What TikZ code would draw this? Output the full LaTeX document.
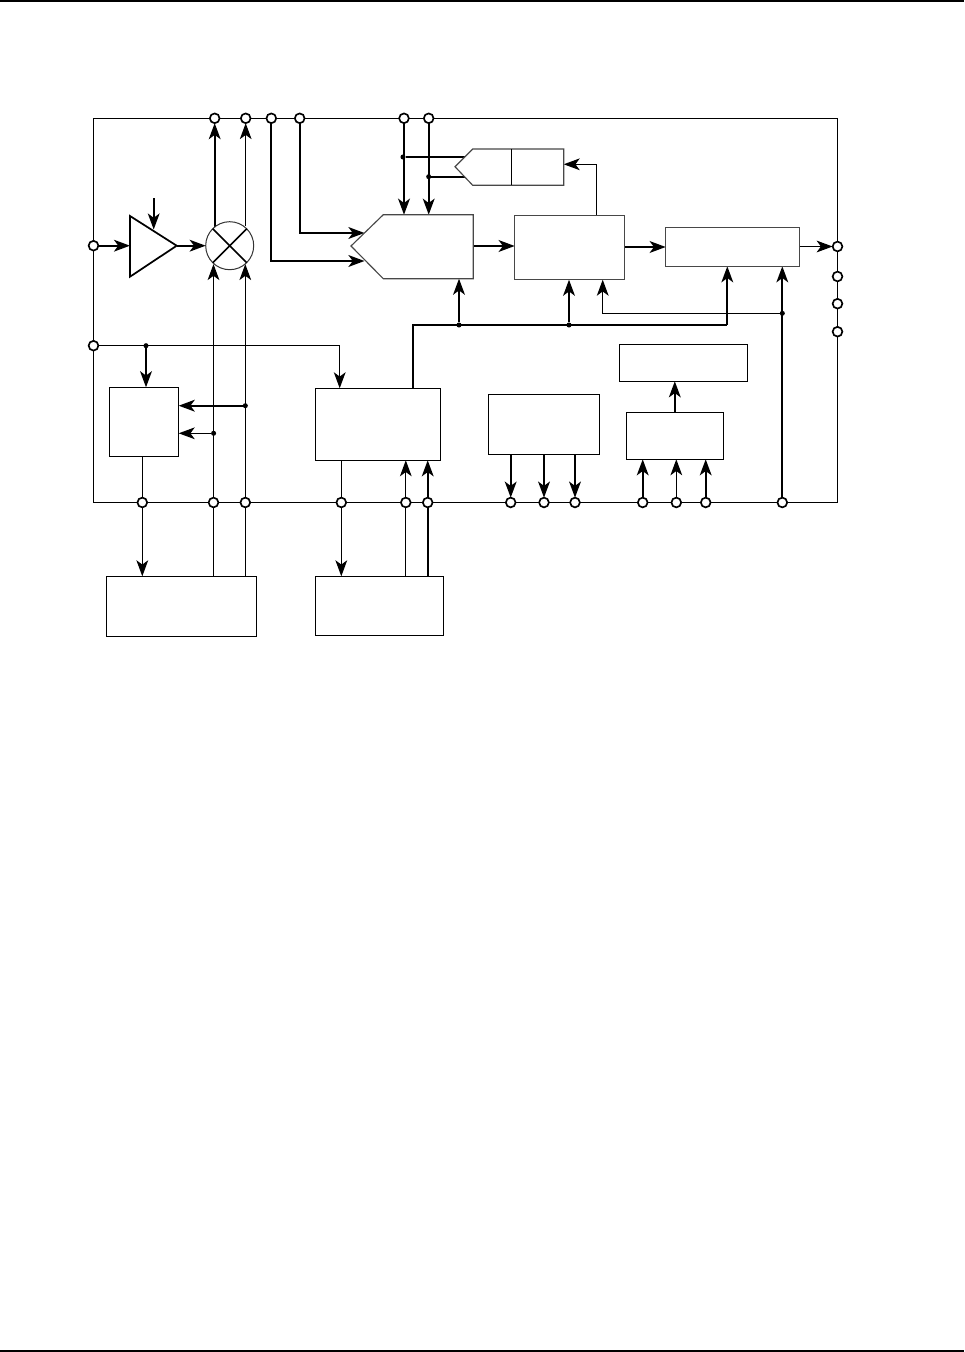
\documentclass[tikz,border=0pt]{standalone}
\usetikzlibrary{arrows.meta,fit,backgrounds}
\tikzset{
  x=0.75pt,y=-0.75pt,
  thinl/.style={line width=0.85pt,black},
  thickl/.style={line width=1.7pt,black},
  arr/.style={-{Stealth[length=12pt,width=8.8pt,inset=3.2pt]}},
  tarr/.style={thinl,arr},
  barr/.style={thickl,arr},
  blk/.style={draw=black,line width=0.85pt,inner sep=0pt,outer sep=0pt,rectangle},
  gblk/.style={draw=black!72,line width=0.85pt,inner sep=0pt,outer sep=0pt,rectangle},
  pin/.style={circle,draw=black,fill=white,line width=1.25pt,minimum size=7.3pt,inner sep=0pt,outer sep=0pt},
  jdot/.style={circle,fill=black,minimum size=3.8pt,inner sep=0pt,outer sep=0pt},
  mix/.style={circle,draw=black!80,fill=white,line width=0.75pt,minimum size=36pt,inner sep=0pt,outer sep=0pt},
}
\newcommand{\blkat}[6][blk]{\path (#3,#4) coordinate (#2-a) (#5,#6) coordinate (#2-b);
  \node[#1,fit=(#2-a)(#2-b)] (#2) {};}
\begin{document}
\begin{tikzpicture}
\useasboundingbox (0,0) rectangle (964,1352);
% page rules
\coordinate (rt0) at (0,1); \coordinate (rt1) at (964,1);
\coordinate (rb0) at (0,1351); \coordinate (rb1) at (964,1351);
\draw[line width=1.5pt] (rt0) -- (rt1);
\draw[line width=1.5pt] (rb0) -- (rb1);
% frame corners
\coordinate (ftl) at (93.5,118.5); \coordinate (ftr) at (837.5,118.5);
\coordinate (fbr) at (837.5,502.5); \coordinate (fbl) at (93.5,502.5);
% pins: top
\node[pin] (t1) at (214.7,118.3) {};
\node[pin] (t2) at (245.7,118.3) {};
\node[pin] (t3) at (271.3,118.3) {};
\node[pin] (t4) at (299.7,118.3) {};
\node[pin] (t5) at (404,118.3) {};
\node[pin] (t6) at (428.7,118.3) {};
% pins: left
\node[pin] (l1) at (93.5,245.7) {};
\node[pin] (l2) at (93.5,345.7) {};
% pins: right
\node[pin] (r1) at (837.5,246.5) {};
\node[pin] (r2) at (837.5,276.5) {};
\node[pin] (r3) at (837.5,303.7) {};
\node[pin] (r4) at (837.5,331.7) {};
% pins: bottom
\node[pin] (b1) at (142.3,502.5) {};
\node[pin] (b2) at (213.5,502.5) {};
\node[pin] (b3) at (245.3,502.5) {};
\node[pin] (b4) at (341.3,502.5) {};
\node[pin] (b5) at (405.8,502.5) {};
\node[pin] (b6) at (427.7,502.5) {};
\node[pin] (b7) at (510.7,502.5) {};
\node[pin] (b8) at (544,502.5) {};
\node[pin] (b9) at (575,502.5) {};
\node[pin] (b10) at (642.7,502.5) {};
\node[pin] (b11) at (676.3,502.5) {};
\node[pin] (b12) at (705.7,502.5) {};
\node[pin] (b13) at (782.3,502.5) {};
% blocks
\blkat[gblk]{conv}{514.7}{215.7}{624.3}{279.7}
\blkat[gblk]{outb}{665.7}{227.3}{799.3}{266.3}
\blkat{lowb}{619.3}{344.3}{747.3}{381.3}
\blkat{boxa}{109.3}{387.3}{178.7}{456.3}
\blkat{boxb}{315.3}{388.3}{440.7}{460.3}
\blkat{boxc}{106.3}{576.3}{256.7}{636.3}
\blkat{boxd}{315.3}{576.3}{443.7}{635.3}
\blkat{boxe}{488.3}{394.3}{599.3}{454.7}
\blkat{boxf}{626.3}{412.3}{723.3}{459.3}
% mixer
\node[mix] (mixer) at (229.7,245.7) {};
\draw[thickl,line width=1.2pt] (mixer.45) -- (mixer.225);
\draw[thickl,line width=1.2pt] (mixer.135) -- (mixer.-45);
% amplifier triangle
\coordinate (atl) at (130,216); \coordinate (abl) at (130,276.7);
\coordinate (atip) at (176.7,245.7); \coordinate (ain) at (130,245.7);
\coordinate (again) at (153.7,229.5); \coordinate (againt) at (153.7,198);
\draw[line width=1.3pt,line join=miter] (atl) -- (atip) -- (abl) -- cycle;
% ADC pentagon
\coordinate (ptip) at (351,246); \coordinate (ptl) at (383.3,214.7);
\coordinate (ptr) at (473.3,214.7); \coordinate (pbr) at (473.3,278.7);
\coordinate (pbl) at (383.3,278.7); \coordinate (pi1) at (364.5,233);
\coordinate (pi2) at (364.5,261); \coordinate (pout) at (473.3,246);
\draw[draw=black!72,line width=0.85pt] (ptip) -- (ptl) -- (ptr) -- (pbr) -- (pbl) -- cycle;
% small pentagon
\coordinate (stip) at (455,166.7); \coordinate (stl) at (472.7,149);
\coordinate (str) at (563.7,149); \coordinate (sbr) at (563.7,185.3);
\coordinate (sbl) at (472.7,185.3); \coordinate (sdt) at (511.3,149);
\coordinate (sdb) at (511.3,185.3); \coordinate (si1) at (464.5,157);
\coordinate (si2) at (464.5,176.7); \coordinate (sin) at (563.7,164.3);
\draw[draw=black!72,line width=0.85pt] (stip) -- (stl) -- (str) -- (sbr) -- (sbl) -- cycle;
\draw[thinl] (sdt) -- (sdb);
% junctions
\node[jdot] (j1) at (403,157) {};
\node[jdot] (j2) at (428.7,176.7) {};
\node[jdot] (j3) at (146,345.7) {};
\node[jdot] (j4) at (245.3,405.7) {};
\node[jdot] (j5) at (213.6,433.3) {};
\node[jdot] (j6) at (459,325) {};
\node[jdot] (j7) at (569,325) {};
\node[jdot] (j8) at (782.3,313.3) {};
\begin{pgfonlayer}{background}
\draw[thinl] (ftl) -- (ftr) -- (fbr) -- (fbl) -- cycle;
% amplifier and mixer
\draw[barr] (l1) -- (ain);
\draw[barr] (atip) -- (mixer.west);
\draw[tarr,line width=1.2pt] (againt) -- (again);
\draw[barr] (t1 |- mixer.130) -- (t1);
\draw[tarr] (t2 |- mixer.55) -- (t2);
\draw[tarr] (b2 |- boxc.north) -- (b2 |- mixer.230);
\draw[tarr] (b3 |- boxc.north) -- (b3 |- mixer.310);
% to the converter
\draw[barr] (t4) |- (pi1);
\draw[barr] (t3) |- (pi2);
\draw[barr] (t5) -- (t5 |- ptl);
\draw[barr] (t6) -- (t6 |- ptl);
\draw[thickl,line width=1.4pt] (j1) -- (si1);
\draw[thickl,line width=1.4pt] (j2) -- (si2);
\draw[barr] (pout) -- (conv.west |- pout);
\coordinate (convo) at (624.3,247);
\draw[barr] (convo) -- (outb.west |- convo);
\draw[tarr] (outb.east |- r1) -- (r1);
\coordinate (ct) at (596.7,215.7);
\draw[tarr] (ct) |- (sin);
% digital bus
\coordinate (bus0) at (413.3,388.3); \coordinate (bus1) at (727.3,325);
\draw[thickl] (bus0) |- (bus1);
\draw[barr] (bus1) -- (bus1 |- outb.south);
\draw[barr] (j6) -- (j6 |- pbr);
\draw[barr] (j7) -- (j7 |- conv.south);
\draw[barr] (b13) -- (b13 |- outb.south);
\coordinate (cfb) at (602.7,279.7);
\draw[tarr] (j8) -| (cfb);
% control lines
\coordinate (bbt) at (339.7,388.3);
\draw[tarr] (l2) -| (bbt);
\draw[barr] (j3) -- (j3 |- boxa.north);
\draw[barr] (j4) -- (j4 -| boxa.east);
\draw[tarr] (j5) -- (j5 -| boxa.east);
% lower blocks
\draw[tarr] (b1 |- boxa.south) -- (b1 |- boxc.north);
\draw[tarr] (b4 |- boxb.south) -- (b4 |- boxd.north);
\draw[tarr] (b5 |- boxd.north) -- (b5 |- boxb.south);
\draw[barr] (b6 |- boxd.north) -- (b6 |- boxb.south);
\draw[barr] (b7 |- boxe.south) -- (b7);
\draw[barr] (b8 |- boxe.south) -- (b8);
\draw[barr] (b9 |- boxe.south) -- (b9);
\draw[barr] (b10) -- (b10 |- boxf.south);
\draw[tarr] (b11) -- (b11 |- boxf.south);
\draw[barr] (b12) -- (b12 |- boxf.south);
\draw[barr] (boxf.north) -- (boxf.north |- lowb.south);
\end{pgfonlayer}
\end{tikzpicture}
\end{document}
